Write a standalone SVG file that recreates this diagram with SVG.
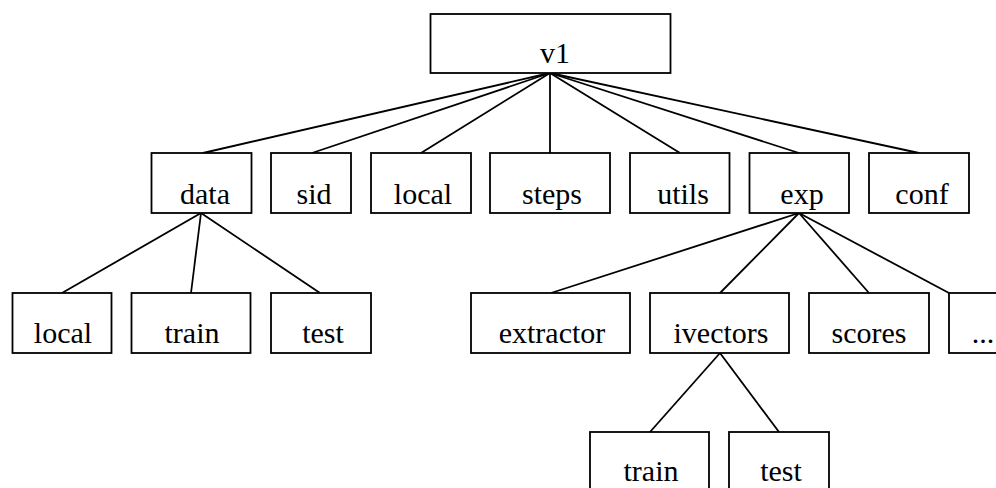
<svg xmlns="http://www.w3.org/2000/svg" width="996" height="488" viewBox="0 0 996 488">
  <style>
    .box { fill: #ffffff; stroke: #000000; stroke-width: 1.8; }
    .lbl { font-size: 30px; fill: #000000; text-anchor: middle; }
    .edge { stroke: #000000; stroke-width: 1.8; fill: none; }
  </style>
  <rect width="996" height="488" fill="#ffffff"/>

  <!-- tree edges -->
  <g id="connectors">
    <line class="edge" x1="550" y1="73" x2="203" y2="153"/>
    <line class="edge" x1="550" y1="73" x2="312" y2="153"/>
    <line class="edge" x1="550" y1="73" x2="421" y2="153"/>
    <line class="edge" x1="550" y1="73" x2="550" y2="153"/>
    <line class="edge" x1="550" y1="73" x2="680" y2="153"/>
    <line class="edge" x1="550" y1="73" x2="799" y2="153"/>
    <line class="edge" x1="550" y1="73" x2="919" y2="153"/>

    <line class="edge" x1="201" y1="213" x2="62" y2="293"/>
    <line class="edge" x1="201" y1="213" x2="191" y2="293"/>
    <line class="edge" x1="201" y1="213" x2="320" y2="293"/>

    <line class="edge" x1="799" y1="213" x2="551" y2="293"/>
    <line class="edge" x1="799" y1="213" x2="720" y2="293"/>
    <line class="edge" x1="799" y1="213" x2="869" y2="293"/>
    <line class="edge" x1="799" y1="213" x2="949" y2="293"/>

    <line class="edge" x1="720" y1="353" x2="650" y2="432"/>
    <line class="edge" x1="720" y1="353" x2="779" y2="432"/>
  </g>

  <g font-family="Liberation Serif, Tinos, Times New Roman, Times, serif">
  <!-- root -->
  <g id="v1">
    <rect class="box" x="430.5" y="14" width="240" height="59"/>
    <text class="lbl" x="555" y="63">v1</text>
  </g>

  <!-- level 1 -->
  <g id="data">
    <rect class="box" x="151.5" y="153" width="100" height="60"/>
    <text class="lbl" x="205" y="204">data</text>
  </g>
  <g id="sid">
    <rect class="box" x="271" y="153" width="80" height="60"/>
    <text class="lbl" x="314" y="204">sid</text>
  </g>
  <g id="local">
    <rect class="box" x="371" y="153" width="100" height="60"/>
    <text class="lbl" x="423" y="204">local</text>
  </g>
  <g id="steps">
    <rect class="box" x="490" y="153" width="120" height="60"/>
    <text class="lbl" x="552" y="204">steps</text>
  </g>
  <g id="utils">
    <rect class="box" x="630" y="153" width="99.5" height="60"/>
    <text class="lbl" x="683" y="204">utils</text>
  </g>
  <g id="exp">
    <rect class="box" x="749.5" y="153" width="99.5" height="60"/>
    <text class="lbl" x="802" y="204">exp</text>
  </g>
  <g id="conf">
    <rect class="box" x="869" y="153" width="100" height="60"/>
    <text class="lbl" x="922" y="204">conf</text>
  </g>

  <!-- level 2 under data -->
  <g id="data-local">
    <rect class="box" x="12.5" y="293" width="99" height="60"/>
    <text class="lbl" x="63" y="343">local</text>
  </g>
  <g id="data-train">
    <rect class="box" x="131.5" y="293" width="119" height="60"/>
    <text class="lbl" x="192" y="343">train</text>
  </g>
  <g id="data-test">
    <rect class="box" x="271" y="293" width="100" height="60"/>
    <text class="lbl" x="323" y="343">test</text>
  </g>

  <!-- level 2 under exp -->
  <g id="extractor">
    <rect class="box" x="471" y="293" width="159" height="60"/>
    <text class="lbl" x="552" y="343">extractor</text>
  </g>
  <g id="ivectors">
    <rect class="box" x="650" y="293" width="139" height="60"/>
    <text class="lbl" x="721" y="343">ivectors</text>
  </g>
  <g id="scores">
    <rect class="box" x="809" y="293" width="120" height="60"/>
    <text class="lbl" x="869" y="343">scores</text>
  </g>
  <g id="more">
    <rect class="box" x="949" y="293" width="100" height="60"/>
    <text class="lbl" x="983" y="343">...</text>
  </g>

  <!-- level 3 under ivectors -->
  <g id="ivectors-train">
    <rect class="box" x="590" y="432" width="119" height="60"/>
    <text class="lbl" x="651" y="481">train</text>
  </g>
  <g id="ivectors-test">
    <rect class="box" x="729" y="432" width="100" height="60"/>
    <text class="lbl" x="781" y="481">test</text>
  </g>
  </g>
</svg>
